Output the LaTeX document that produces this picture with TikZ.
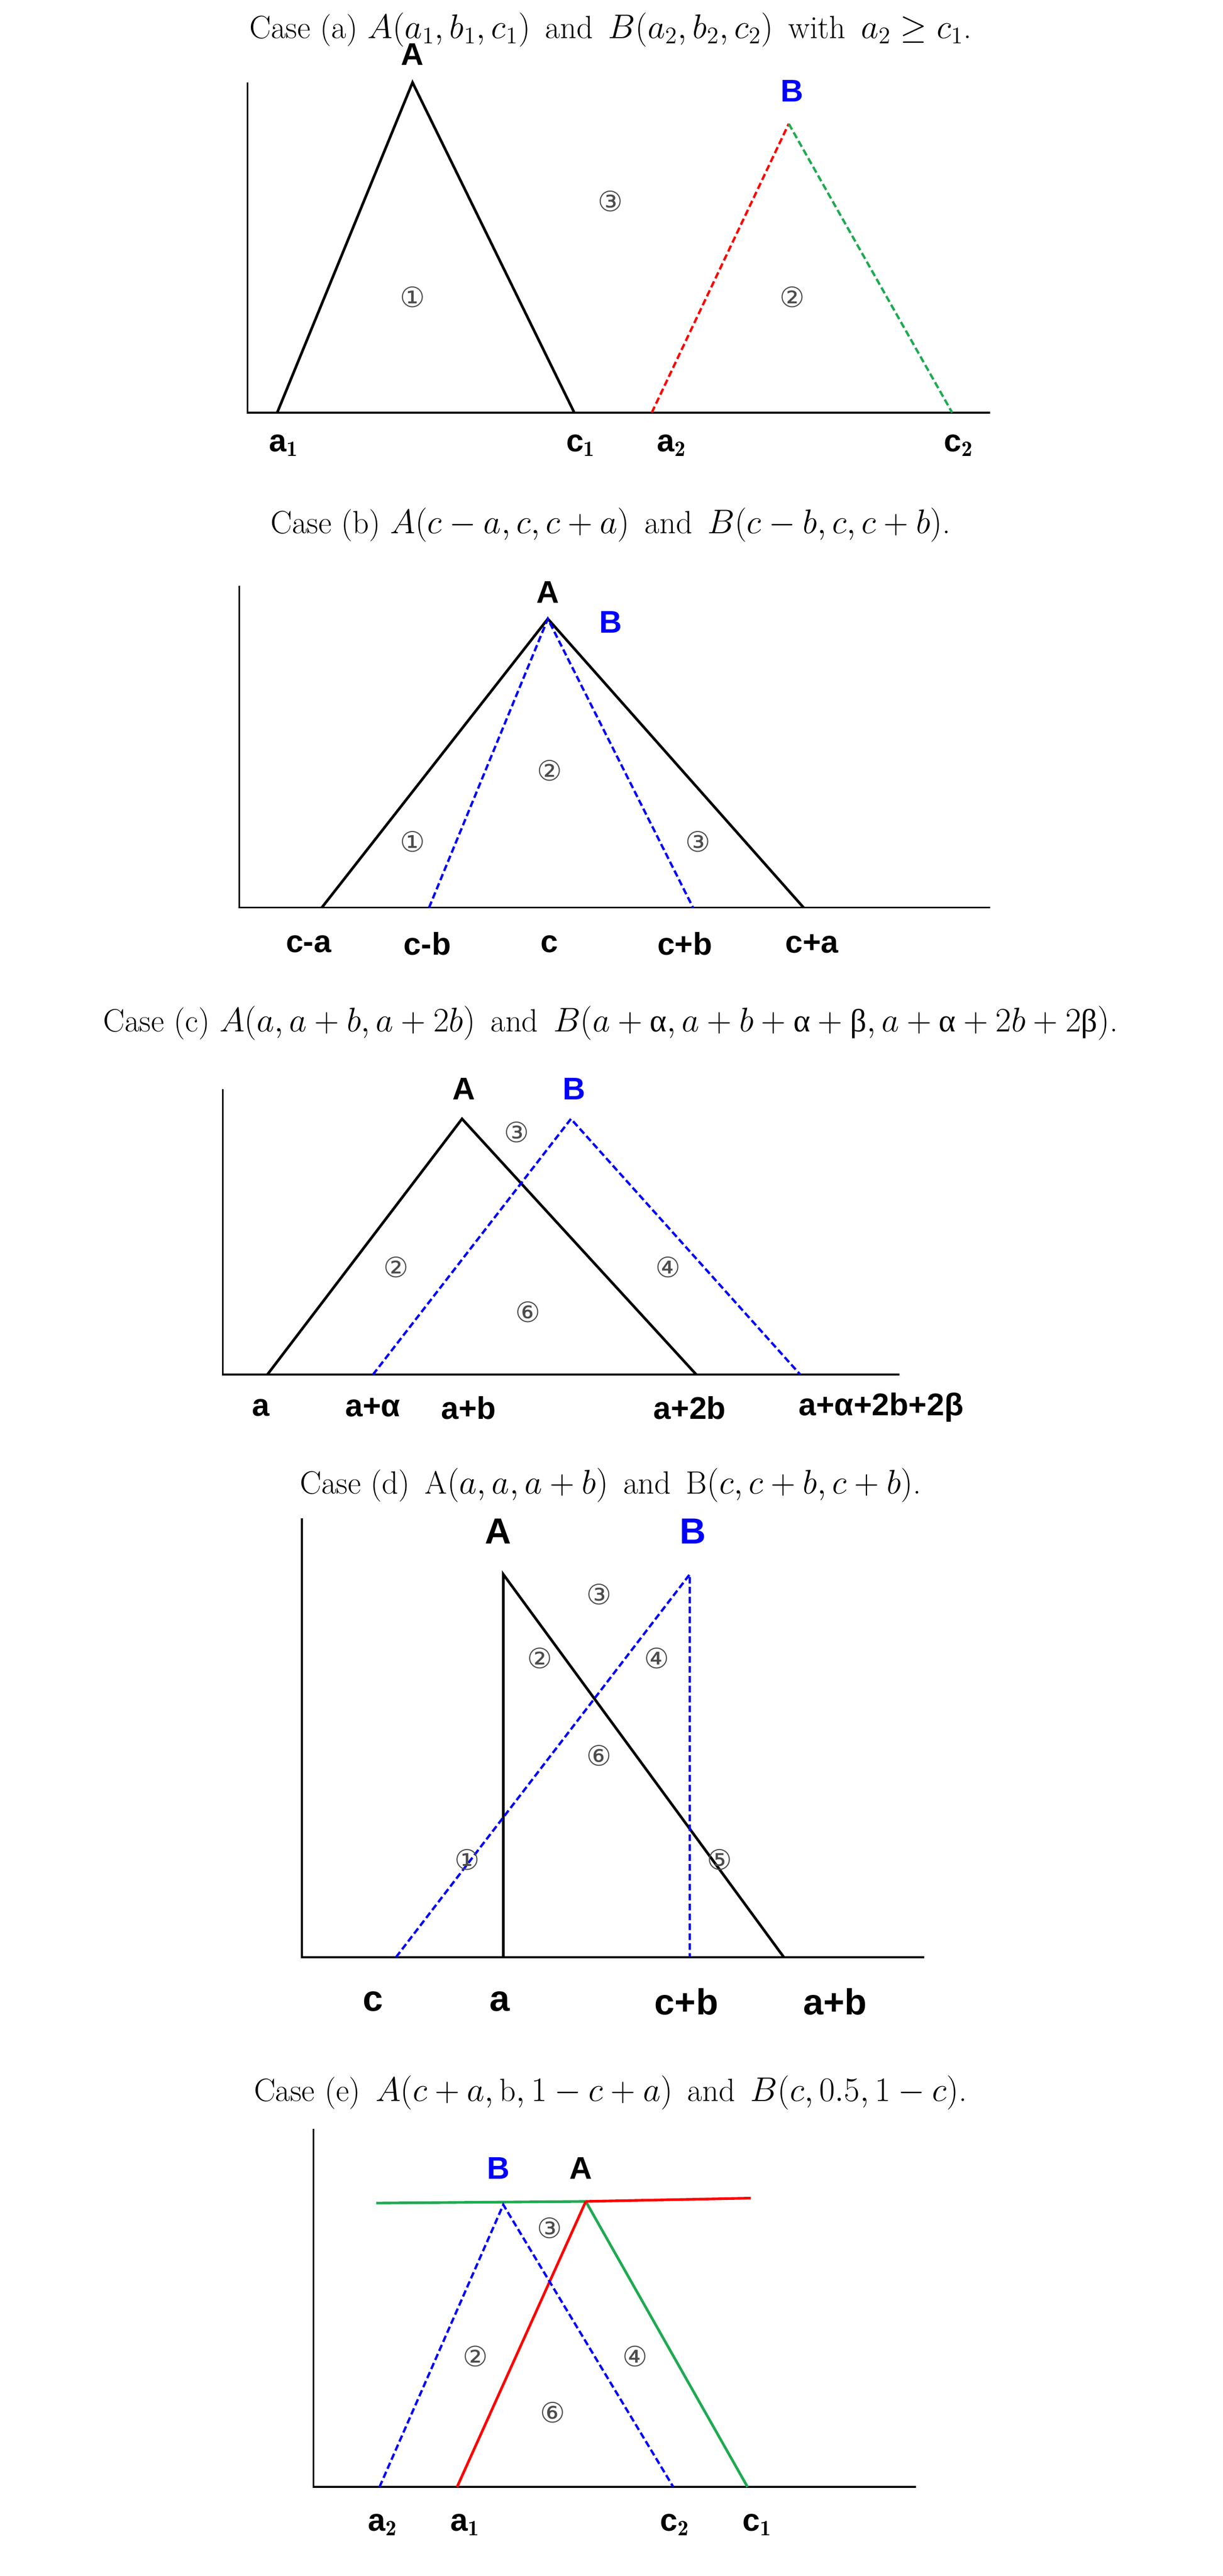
\documentclass[tikz,border=0pt]{standalone}
\usepackage{fontspec}
\newfontfamily\lab{Liberation Sans}
\newfontfamily\circf{DejaVu Sans}
\newfontfamily\grk{Liberation Serif}
\begin{document}
\begin{tikzpicture}[x=1pt,y=-1pt,
  captxt/.style={font=\fontsize{19.5}{22}\selectfont},
  lbl/.style={font=\lab\bfseries\fontsize{19}{22}\selectfont},
  big/.style={font=\lab\bfseries\fontsize{22}{25}\selectfont},
  cn/.style={font=\circf\fontsize{17}{19}\selectfont,text=black!70},
  ax/.style={line width=1.1pt},
  tri/.style={line width=1.6pt},
  dsh/.style={line width=1.4pt,dash pattern=on 4pt off 2pt}]
\useasboundingbox (0,0) rectangle (741,1561);
\definecolor{gr}{RGB}{30,170,80}
% ---------- (a)
\node[captxt] (capa) at (370,18) {Case (a) $A(a_1,b_1,c_1)$\, and\, $B(a_2,b_2,c_2)$\, with\, $a_2\geq c_1$.};
\coordinate (a0) at (150,50); \coordinate (a1) at (150,250); \coordinate (a2) at (600,250);
\draw[ax] (a0) -- (a1) -- (a2);
\coordinate (aA1) at (168,250); \coordinate (aA2) at (250,50); \coordinate (aA3) at (348,250);
\draw[tri] (aA1) -- (aA2) -- (aA3);
\coordinate (aB1) at (395,250); \coordinate (aB2) at (478,75); \coordinate (aB3) at (577,250);
\draw[dsh,red] (aB1) -- (aB2); \draw[dsh,gr] (aB2) -- (aB3);
\node[lbl] (la) at (250,33) {A}; \node[lbl,blue] (lb) at (480,55) {B};
\node[cn] (a_1) at (250,180) {①}; \node[cn] (a_2) at (480,180) {②}; \node[cn] (a_3) at (370,122) {③};
\node[lbl] (xa1) at (172,270) {a$_\mathbf{1}$}; \node[lbl] (xc1) at (352,270) {c$_\mathbf{1}$};
\node[lbl] (xa2) at (407,270) {a$_\mathbf{2}$}; \node[lbl] (xc2) at (581,270) {c$_\mathbf{2}$};
% ---------- (b)
\node[captxt] (capb) at (370,318) {Case (b) $A(c-a,c,c+a)$\, and\, $B(c-b,c,c+b)$.};
\draw[ax] (145,355) -- (145,550) -- (600,550);
\coordinate (bA1) at (195,550); \coordinate (bA2) at (332,375); \coordinate (bA3) at (487,550);
\draw[tri] (bA1) -- (bA2) -- (bA3);
\coordinate (bB1) at (260,550); \coordinate (bB3) at (420,550);
\draw[dsh,blue] (bB1) -- (bA2) -- (bB3);
\node[lbl] (lba) at (332,359) {A}; \node[lbl,blue] (lbb) at (370,377) {B};
\node[cn] (b_1) at (250,510) {①}; \node[cn] (b_2) at (333,467) {②}; \node[cn] (b_3) at (423,510) {③};
\node[lbl] at (187,572) {c-a}; \node[lbl] at (259,572) {c-b}; \node[lbl] at (333,572) {c};
\node[lbl] at (415,572) {c+b}; \node[lbl] at (492,572) {c+a};
% ---------- (c)
\node[captxt] (capc) at (370,620) {Case (c) $A(a,a+b,a+2b)$\, and\, $B(a+\hbox{\grk α},a+b+\hbox{\grk α}+\hbox{\grk β},a+\hbox{\grk α}+2b+2\hbox{\grk β})$.};
\draw[ax] (135,660) -- (135,833) -- (545,833);
\coordinate (cA1) at (162,833); \coordinate (cA2) at (280,678); \coordinate (cA3) at (422,833);
\draw[tri] (cA1) -- (cA2) -- (cA3);
\coordinate (cB1) at (226,833); \coordinate (cB2) at (346,678); \coordinate (cB3) at (485,833);
\draw[dsh,blue] (cB1) -- (cB2) -- (cB3);
\node[lbl] at (281,660) {A}; \node[lbl,blue] at (348,660) {B};
\node[cn] at (313,686) {③}; \node[cn] at (240,768) {②}; \node[cn] at (320,795) {⑥}; \node[cn] at (405,768) {④};
\node[lbl] at (158,853) {a}; \node[lbl] at (226,853) {a+α}; \node[lbl] at (284,853) {a+b};
\node[lbl] at (418,853) {a+2b}; \node[lbl] at (534,853) {a+α+2b+2β};
% ---------- (d)
\node[captxt] (capd) at (370,900) {Case (d)\, A$(a,a,a+b)$\, and\, B$(c,c+b,c+b)$.};
\draw[ax] (183,920) -- (183,1186) -- (560,1186);
\coordinate (dA1) at (305,1186); \coordinate (dA2) at (305,954); \coordinate (dA3) at (475,1186);
\draw[tri] (dA1) -- (dA2) -- (dA3);
\coordinate (dB1) at (240,1186); \coordinate (dB2) at (418,954); \coordinate (dB3) at (418,1186);
\draw[dsh,blue] (dB1) -- (dB2) -- (dB3);
\node[big] at (302,928) {A}; \node[big,blue] at (420,928) {B};
\node[cn] at (363,966) {③}; \node[cn] at (327,1005) {②}; \node[cn] at (398,1005) {④};
\node[cn] at (363,1064) {⑥}; \node[cn] at (283,1127) {①}; \node[cn] at (436,1127) {⑤};
\node[big] at (226,1213) {c}; \node[big] at (303,1213) {a}; \node[big] at (416,1213) {c+b}; \node[big] at (506,1213) {a+b};
% ---------- (e)
\node[captxt] (cape) at (370,1268) {Case (e)\, $A(c+a,\mathrm{b},1-c+a)$\, and\, $B(c,0.5,1-c)$.};
\draw[ax] (190,1290) -- (190,1507) -- (555,1507);
\coordinate (eG0) at (228,1335); \coordinate (eA2) at (355,1334); \coordinate (eR1) at (455,1332);
\coordinate (eA1) at (277,1507); \coordinate (eA3) at (453,1507);
\draw[tri,gr] (eG0) -- (eA2) -- (eA3);
\draw[tri,red] (eA2) -- (eR1); \draw[tri,red] (eA1) -- (eA2);
\coordinate (eB1) at (230,1507); \coordinate (eB2) at (305,1336); \coordinate (eB3) at (408,1507);
\draw[dsh,blue] (eB1) -- (eB2) -- (eB3);
\node[lbl,blue] at (302,1314) {B}; \node[lbl] at (352,1314) {A};
\node[cn] at (333,1350) {③}; \node[cn] at (288,1428) {②}; \node[cn] at (385,1428) {④}; \node[cn] at (335,1462) {⑥};
\node[lbl] at (232,1530) {a$_\mathbf{2}$}; \node[lbl] at (282,1530) {a$_\mathbf{1}$};
\node[lbl] at (409,1530) {c$_\mathbf{2}$}; \node[lbl] at (459,1530) {c$_\mathbf{1}$};
\end{tikzpicture}
\end{document}
